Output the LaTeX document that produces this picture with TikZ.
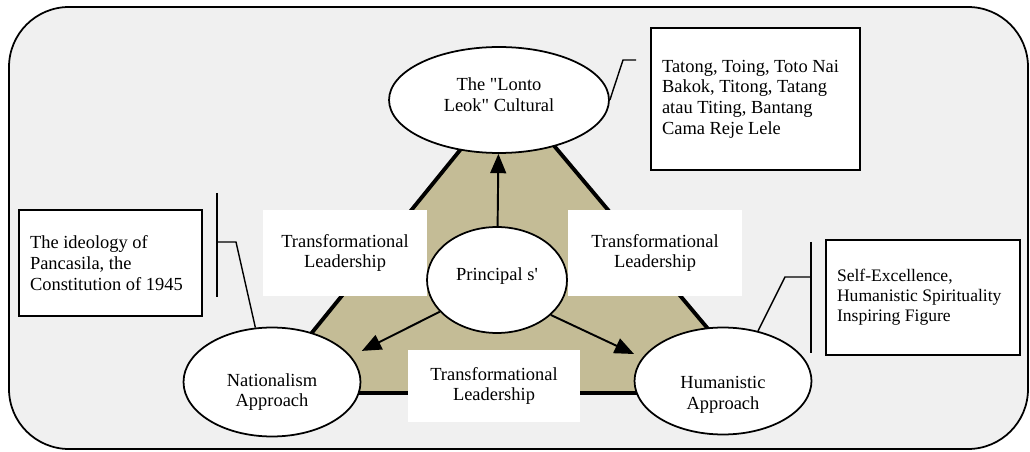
\documentclass[tikz,border=0pt]{standalone}
\usepackage{fontspec}
\setmainfont{Liberation Serif}[Ligatures=TeXOff]
\usetikzlibrary{arrows.meta,shapes.geometric}

\definecolor{panelgray}{RGB}{240,240,240}
\definecolor{khaki}{RGB}{196,188,150}

\begin{document}
\begin{tikzpicture}
  [x=0.02cm, y=-0.02cm,
    every node/.style={font=\fontsize{10.5}{11.8}\selectfont},
    oval/.style={ellipse, draw, line width=1pt, fill=white, inner sep=0pt},
    ovaltext/.style 2 args={label={[align=center, yshift=#1]center:#2}},
    tagbox/.style={fill=white, align=center, inner sep=0pt},
    notebox/.style={draw, line width=1.2pt, fill=white, align=flush left, inner xsep=0.22cm, inner ysep=0pt},
    flow/.style={-{Triangle[length=11pt,width=9pt]}, line width=1.1pt},
    hook/.style={line width=0.8pt},
  ]
  \useasboundingbox (0,0) rectangle (1030,452);
  \draw[fill=panelgray, line width=1pt, rounded corners=1.2cm] (9,7) rectangle (1028,449);
  % triangle behind the ovals
  \draw[fill=khaki, line width=2.2pt] (508,91) -- (263,393) -- (762,393) -- cycle;

  \node[tagbox, minimum width=3.28cm, minimum height=1.74cm] (tlLeft) at (345,253) {Transformational\\Leadership};
  \node[tagbox, minimum width=3.48cm, minimum height=1.74cm] (tlRight) at (655,253) {Transformational\\Leadership};
  \node[tagbox, minimum width=3.46cm, minimum height=1.46cm] (tlBottom) at (494,386) {Transformational\\Leadership};

  \node[oval, minimum width=4.4cm, minimum height=2.12cm, ovaltext={0.1cm}{The "Lonto\\Leok" Cultural}] (lonto) at (499,100) {};
  \node[oval, minimum width=2.8cm, minimum height=2.12cm, ovaltext={0.08cm}{Principal s'}] (princ) at (497,280) {};
  \node[oval, minimum width=3.54cm, minimum height=2.18cm, ovaltext={-0.2cm}{Nationalism\\Approach}] (nat) at (272,382) {};
  \node[oval, minimum width=3.54cm, minimum height=2.14cm, ovaltext={-0.27cm}{Humanistic\\Approach}] (hum) at (723,381) {};

  \draw[flow] (princ) -- (lonto);
  \draw[flow, shorten >=0.24cm] (princ.209) -- (nat.18);
  \draw[flow, shorten >=0.18cm] (princ.327) -- (hum.164);

  \node[notebox, text width=3.74cm, minimum height=2.84cm] (cultBox) at (755.5,99)
    {Tatong, Toing, Toto Nai\\Bakok, Titong, Tatang\\atau Titing, Bantang\\Cama Reje Lele};
  \node[notebox, text width=3.22cm, minimum height=2.12cm] (natBox) at (110.5,263)
    {The ideology of\\Pancasila, the\\Constitution of 1945};
  \node[notebox, text width=3.44cm, minimum height=2.3cm, font=\fontsize{10}{11.4}\selectfont] (humBox) at (923,297.5)
    {Self-Excellence,\\Humanistic Spirituality\\Inspiring Figure};

  % brackets
  \coordinate (topKnee) at (623,60);
  \coordinate (topEnd) at (636,60);
  \draw[hook] (lonto.east) -- (topKnee) -- (topEnd);

  \coordinate (natBarA) at (217,193);
  \coordinate (natBarB) at (217,297);
  \coordinate (natKnee) at (236,242);
  \draw[hook] (natBarA) -- (natBarB);
  \draw[hook] (nat.107) -- (natKnee) -- (natKnee -| natBarA);

  \coordinate (humBarA) at (811,242);
  \coordinate (humBarB) at (811,353);
  \coordinate (humKnee) at (785,277);
  \draw[hook] (humBarA) -- (humBarB);
  \draw[hook] (hum.55) -- (humKnee) -- (humKnee -| humBarA);
\end{tikzpicture}
\end{document}
